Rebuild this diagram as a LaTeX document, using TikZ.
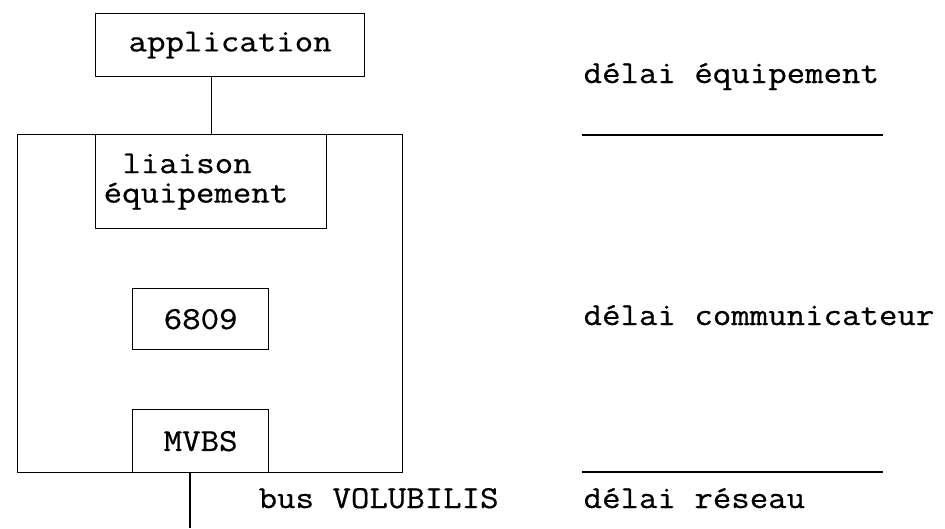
\documentclass[tikz,border=0pt]{standalone}
\usepackage{fontspec}
\setmonofont{Latin Modern Mono}[FakeStretch=1.12,FakeBold=0.6]
\begin{document}
\begin{tikzpicture}[x=1pt,y=-1pt, line width=1.3pt,
  every node/.style={font=\ttfamily\fontsize{32}{29.5}\selectfont},
  blk/.style={draw, rectangle, inner sep=0pt, anchor=north west},
  lbl/.style={inner sep=0pt, anchor=base west}]
\useasboundingbox (0,0) rectangle (945,528);
% blocks
\node[blk, minimum width=269pt, minimum height=63pt] (app) at (95,13) {application};
\node[blk, minimum width=385pt, minimum height=338pt] (comm) at (17,134) {};
\node[blk, minimum width=231pt, minimum height=94pt, text width=215pt, inner xsep=8pt, align=left] (liai) at (95,134) {\hspace*{0.588em}liaison\\équipement};
\node[blk, minimum width=136pt, minimum height=61pt] (cpu) at (132,288) {6809};
\node[blk, minimum width=136pt, minimum height=63pt] (mvbs) at (132,409) {MVBS};
% connectors
\draw (app.south -| liai.north) -- (liai.north);
\coordinate (busend) at (190,528);
\draw (busend |- comm.south) -- (busend);
\node[lbl] (buslbl) at (258,508) {bus VOLUBILIS};
% right-hand delays
\node[lbl] (d1) at (583,83) {délai équipement};
\node[lbl] (d2) at (583,325) {délai communicateur};
\node[lbl] (d3) at (583,508) {délai réseau};
\coordinate (s1a) at (582,135);
\coordinate (s1b) at (883,135);
\coordinate (s2a) at (582,472);
\coordinate (s2b) at (883,472);
\draw (s1a) -- (s1b);
\draw (s2a) -- (s2b);
\end{tikzpicture}
\end{document}
